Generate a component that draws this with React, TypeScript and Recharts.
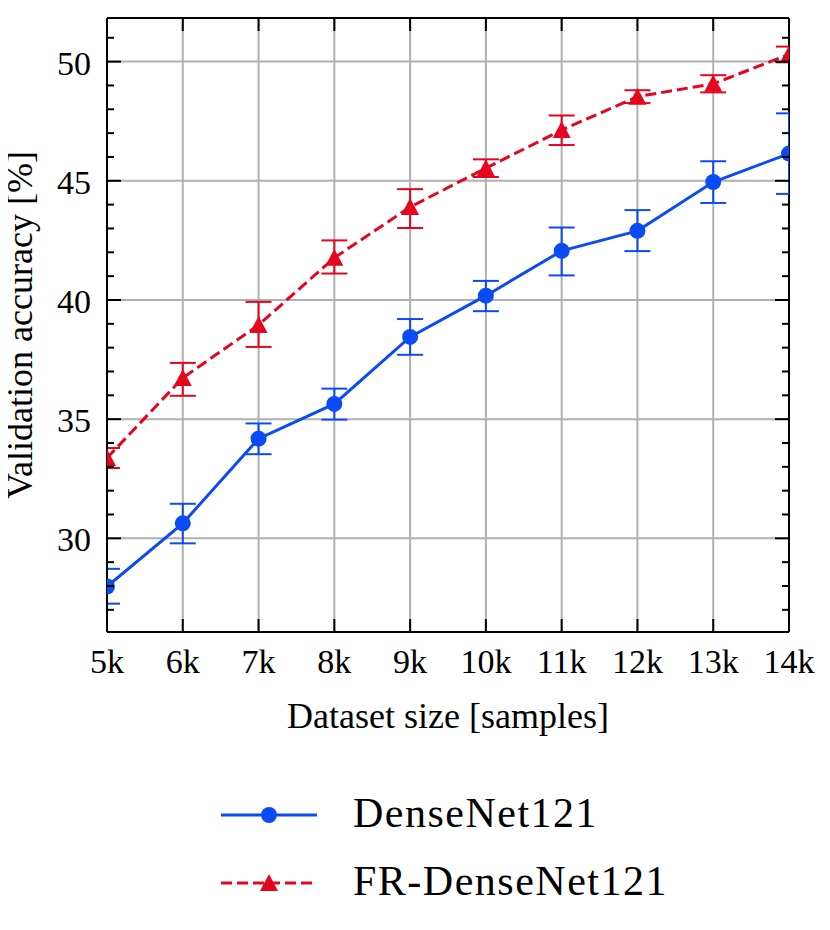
import React from 'react'
import { ComposedChart, Line, XAxis, YAxis, CartesianGrid, ErrorBar, Label, ReferenceLine } from 'recharts'

const FONT = '"Liberation Serif", "Times New Roman", serif'
const BLUE = '#0b4bf5'
const RED = '#e6051e'

// dataset sizes in thousands of samples
const sizes = [5, 6, 7, 8, 9, 10, 11, 12, 13, 14]

// validation accuracy [%] and error bars as [minus, plus]
const denseAcc = [27.98, 30.63, 34.18, 35.64, 38.45, 40.18, 42.06, 42.9, 44.95, 46.14]
const denseErr = [
  [0.72, 0.74], [0.84, 0.82], [0.65, 0.64], [0.66, 0.64], [0.75, 0.75],
  [0.65, 0.62], [1.03, 0.98], [0.85, 0.87], [0.88, 0.87], [1.69, 1.69],
]
const frAcc = [33.37, 36.73, 38.95, 41.77, 43.9, 45.53, 47.13, 48.53, 49.07, 50.3]
const frErr = [
  [0.42, 0.42], [0.75, 0.63], [0.92, 0.97], [0.66, 0.73], [0.88, 0.75],
  [0.37, 0.37], [0.63, 0.61], [0.27, 0.27], [0.36, 0.36], [0.33, 0.33],
]

const xTicks = [5, 6, 7, 8, 9, 10, 11, 12, 13, 14]
const xDomain = [5, 14]
const yDomain = [26.07, 51.83]
const yTicks = [27, 28, 29, 30, 31, 32, 33, 34, 35, 36, 37, 38, 39, 40, 41, 42, 43, 44, 45, 46, 47, 48, 49, 50, 51]
const yMajor = [30, 35, 40, 45, 50]
const seriesNames = ['DenseNet121', 'FR-DenseNet121']

const data = sizes.map((s, i) => ({
  size: s,
  dense: denseAcc[i],
  denseErr: denseErr[i],
  fr: frAcc[i],
  frErr: frErr[i],
}))

// chart layout
const W = 814
const H = 760
const MARGIN = { top: 10, right: 33, bottom: 0, left: 0 }
const PLOT_TOP = MARGIN.top
const PLOT_RIGHT = W - MARGIN.right

const BottomTick = ({ x, y, payload }: any) => (
  <g>
    <line x1={x} y1={y} x2={x} y2={y - 13} stroke="#000" strokeWidth={2} />
    <line x1={x} y1={PLOT_TOP} x2={x} y2={PLOT_TOP + 13} stroke="#000" strokeWidth={2} />
    <text x={x} y={y + 41} textAnchor="middle" fontSize={34} fontFamily={FONT} fill="#000">
      {payload.value}k
    </text>
  </g>
)

const LeftTick = ({ x, y, payload }: any) => {
  const len = yMajor.includes(payload.value) ? 14 : 7
  return (
    <g>
      <line x1={x} y1={y} x2={x + len} y2={y} stroke="#000" strokeWidth={2} />
      <line x1={PLOT_RIGHT} y1={y} x2={PLOT_RIGHT - len} y2={y} stroke="#000" strokeWidth={2} />
      {len === 14 && (
        <text x={x - 16} y={y + 13} textAnchor="end" fontSize={34} fontFamily={FONT} fill="#000">
          {payload.value}
        </text>
      )}
    </g>
  )
}

const XTitle = ({ viewBox }: any) => (
  <text
    x={viewBox.x + viewBox.width / 2}
    y={viewBox.y + 96}
    textAnchor="middle"
    fontSize={36}
    fontFamily={FONT}
    fill="#000"
  >
    Dataset size [samples]
  </text>
)

const YTitle = ({ viewBox }: any) => {
  const cx = 24
  const cy = viewBox.y + viewBox.height / 2
  return (
    <text
      x={cx}
      y={cy}
      transform={`rotate(-90, ${cx}, ${cy})`}
      textAnchor="middle"
      fontSize={36}
      fontFamily={FONT}
      fill="#000"
    >
      Validation accuracy [%]
    </text>
  )
}

const Triangle = ({ cx, cy, fill }: any) => (
  <polygon points={`${cx},${cy - 9} ${cx - 9},${cy + 8} ${cx + 9},${cy + 8}`} fill={fill} />
)

function LegendBox() {
  const rows = [
    { name: seriesNames[0], color: BLUE, dash: undefined, tri: false },
    { name: seriesNames[1], color: RED, dash: '11 5', tri: true },
  ]
  return (
    <svg width={W} height={140} style={{ display: 'block' }}>
      {rows.map((r, i) => {
        const ly = 47 + i * 68
        return (
          <g key={r.name}>
            <line x1={213} y1={ly} x2={309} y2={ly} stroke={r.color} strokeWidth={3} strokeDasharray={r.dash} />
            {r.tri ? <Triangle cx={261} cy={ly} fill={r.color} /> : <circle cx={261} cy={ly} r={8} fill={r.color} />}
            <text x={345} y={ly + 12} fontSize={42} letterSpacing={1.5} fontFamily={FONT} fill="#000">
              {r.name}
            </text>
          </g>
        )
      })}
    </svg>
  )
}

// clip region for markers and error bars (the plot area of the chart below)
function PlotClip() {
  return (
    <svg width={0} height={0} style={{ position: 'absolute' }}>
      <defs>
        <clipPath id="plotClip">
          <rect x={MARGIN.left + 99} y={PLOT_TOP} width={PLOT_RIGHT - 99} height={614} />
        </clipPath>
      </defs>
    </svg>
  )
}

export default function App() {
  return (
    <div style={{ width: W, fontFamily: FONT }}>
      <PlotClip />
      <ComposedChart width={W} height={H} data={data} margin={MARGIN}>
        <CartesianGrid stroke="#b0b0b0" strokeWidth={2} horizontalValues={yMajor} verticalValues={xTicks} />
        <XAxis
          dataKey="size"
          type="number"
          domain={xDomain}
          ticks={xTicks}
          allowDataOverflow
          height={136}
          tickSize={0}
          tickMargin={0}
          tickLine={false}
          tick={<BottomTick />}
          axisLine={{ stroke: '#000', strokeWidth: 2 }}
        >
          <Label content={<XTitle />} />
        </XAxis>
        <YAxis
          type="number"
          domain={yDomain}
          ticks={yTicks}
          allowDataOverflow
          width={99}
          tickSize={0}
          tickMargin={0}
          tickLine={false}
          tick={<LeftTick />}
          axisLine={{ stroke: '#000', strokeWidth: 2 }}
        >
          <Label content={<YTitle />} />
        </YAxis>
        <ReferenceLine y={yDomain[1]} stroke="#000" strokeWidth={2} ifOverflow="visible" />
        <ReferenceLine x={xDomain[1]} stroke="#000" strokeWidth={2} ifOverflow="visible" />
        <Line
          dataKey="dense"
          name={seriesNames[0]}
          type="linear"
          stroke={BLUE}
          strokeWidth={3}
          dot={(p: any) => (
            <circle key={`c${p.index}`} cx={p.cx} cy={p.cy} r={8} fill={BLUE} clipPath="url(#plotClip)" />
          )}
          activeDot={false}
          isAnimationActive={false}
        >
          <ErrorBar
            dataKey="denseErr"
            direction="y"
            width={13}
            stroke={BLUE}
            strokeWidth={2}
            clipPath="url(#plotClip)"
            isAnimationActive={false}
          />
        </Line>
        <Line
          dataKey="fr"
          name={seriesNames[1]}
          type="linear"
          stroke={RED}
          strokeWidth={3}
          strokeDasharray="11 5"
          dot={(p: any) => (
            <g key={`t${p.index}`} clipPath="url(#plotClip)">
              <Triangle cx={p.cx} cy={p.cy} fill={RED} />
            </g>
          )}
          activeDot={false}
          isAnimationActive={false}
        >
          <ErrorBar
            dataKey="frErr"
            direction="y"
            width={13}
            stroke={RED}
            strokeWidth={2}
            clipPath="url(#plotClip)"
            isAnimationActive={false}
          />
        </Line>
      </ComposedChart>
      <LegendBox />
    </div>
  )
}
